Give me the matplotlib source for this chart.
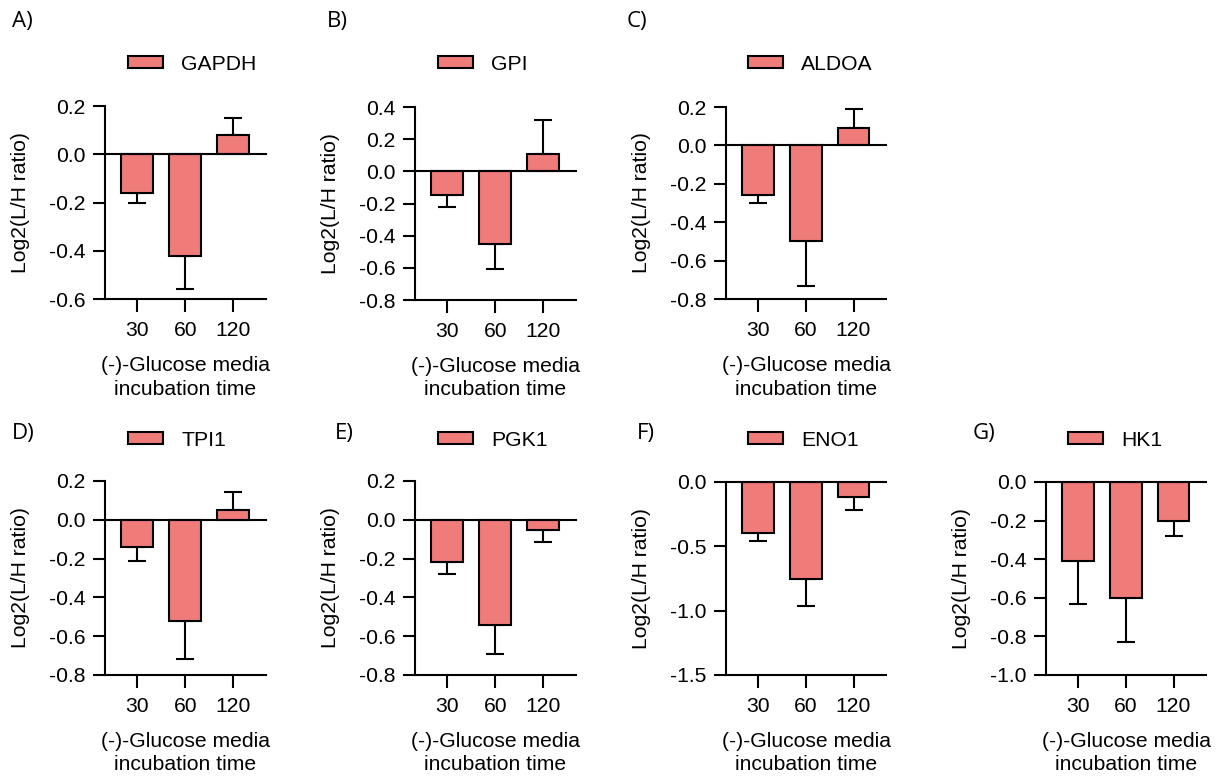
import matplotlib
matplotlib.use("Agg")
import matplotlib.pyplot as plt
from matplotlib.patches import Patch
import numpy as np

plt.rcParams["font.family"] = ["Liberation Sans", "DejaVu Sans"]
plt.rcParams["axes.unicode_minus"] = False

# Incubation times (min)
times = ["30", "60", "120"]

# Mean log2(L/H) and one-sided error per protein
gapdh_mean = [-0.16, -0.42, 0.08]
gapdh_err = [0.04, 0.14, 0.07]
gpi_mean = [-0.15, -0.45, 0.11]
gpi_err = [0.07, 0.16, 0.21]
aldoa_mean = [-0.26, -0.50, 0.09]
aldoa_err = [0.04, 0.23, 0.10]
tpi1_mean = [-0.14, -0.52, 0.05]
tpi1_err = [0.07, 0.20, 0.095]
pgk1_mean = [-0.22, -0.54, -0.05]
pgk1_err = [0.06, 0.15, 0.065]
eno1_mean = [-0.40, -0.75, -0.12]
eno1_err = [0.06, 0.21, 0.10]
hk1_mean = [-0.41, -0.60, -0.20]
hk1_err = [0.22, 0.23, 0.08]

W, H = 1219, 778
fig = plt.figure(figsize=(W / 100, H / 100), dpi=100)

bar_color = "#F07C7A"
lw = 1.5
fs = 15.25

panels = [
    # letter, name, mean, err, axes box (px: left, top, right, bottom), ylim, ytick step, letter x
    ("A)", "GAPDH", gapdh_mean, gapdh_err, (105, 106, 266, 299), (-0.6, 0.2), 0.2, 12),
    ("B)", "GPI", gpi_mean, gpi_err, (415, 107, 576, 300), (-0.8, 0.4), 0.2, 327),
    ("C)", "ALDOA", aldoa_mean, aldoa_err, (726, 107, 886, 299), (-0.8, 0.2), 0.2, 627),
    ("D)", "TPI1", tpi1_mean, tpi1_err, (105, 481, 266, 675), (-0.8, 0.2), 0.2, 12),
    ("E)", "PGK1", pgk1_mean, pgk1_err, (415, 481, 576, 675), (-0.8, 0.2), 0.2, 335),
    ("F)", "ENO1", eno1_mean, eno1_err, (726, 482, 886, 675), (-1.5, 0.0), 0.5, 637),
    ("G)", "HK1", hk1_mean, hk1_err, (1046, 482, 1206, 675), (-1.0, 0.0), 0.2, 973),
]

for letter, name, mean, err, box, ylim, step, lx in panels:
    l, t, r, b = box
    ax = fig.add_axes([l / W, 1 - b / H, (r - l) / W, (b - t) / H])
    x = np.arange(len(times))
    mean = np.array(mean)
    err = np.array(err)
    ax.bar(x, mean, width=0.667, color=bar_color, edgecolor="black",
           linewidth=lw, zorder=2)
    lower = np.where(mean < 0, err, 0)
    upper = np.where(mean >= 0, err, 0)
    ax.errorbar(x, mean, yerr=[lower, upper], fmt="none", ecolor="black",
                elinewidth=lw, capsize=6.5, capthick=lw, zorder=1)
    ax.axhline(0, color="black", linewidth=lw, zorder=3, clip_on=False)

    ax.set_xlim(-0.67, 2.68)
    ax.set_ylim(*ylim)
    ticks = np.round(np.arange(ylim[0], ylim[1] + step / 2, step), 2)
    ax.set_yticks(ticks)
    ax.set_yticklabels([f"{v:.1f}" if abs(v) > 1e-9 else "0.0" for v in ticks])
    ax.set_xticks(x)
    ax.set_xticklabels(times)

    for s in ("top", "right"):
        ax.spines[s].set_visible(False)
    for s in ("left", "bottom"):
        ax.spines[s].set_linewidth(lw)
    ax.tick_params(axis="both", direction="out", length=9, width=lw,
                   labelsize=fs, color="black")
    ax.tick_params(axis="y", pad=5)
    ax.tick_params(axis="x", pad=6.5)

    ax.set_ylabel("Log2(L/H ratio)", fontsize=fs)
    ax.yaxis.set_label_coords(-75 / (r - l), 0.5)
    ax.set_xlabel("(-)-Glucose media\nincubation time", fontsize=fs,
                  linespacing=1.3)
    ax.xaxis.set_label_coords(0.5, -57 / (b - t))
    ax.xaxis.label.set_va("top")

    # panel letter
    ly = 22 if t < 200 else 433
    fig.text(lx / W, 1 - ly / H, letter, fontsize=16,
             family=["Open Sans", "DejaVu Sans"], ha="left", va="center")

    # legend above each panel
    legy = 64 if t < 200 else 440
    legx = {105: 128, 415: 438, 726: 748, 1046: 1068}[l]
    handle = Patch(facecolor=bar_color, edgecolor="black", linewidth=lw)
    ax.legend([handle], [name], loc="center left",
              bbox_to_anchor=(legx / W, 1 - legy / H),
              bbox_transform=fig.transFigure, frameon=False,
              fontsize=fs, handlelength=1.63, handleheight=0.56,
              handletextpad=0.88, borderpad=0, borderaxespad=0)

fig.savefig("out.png", dpi=100)
